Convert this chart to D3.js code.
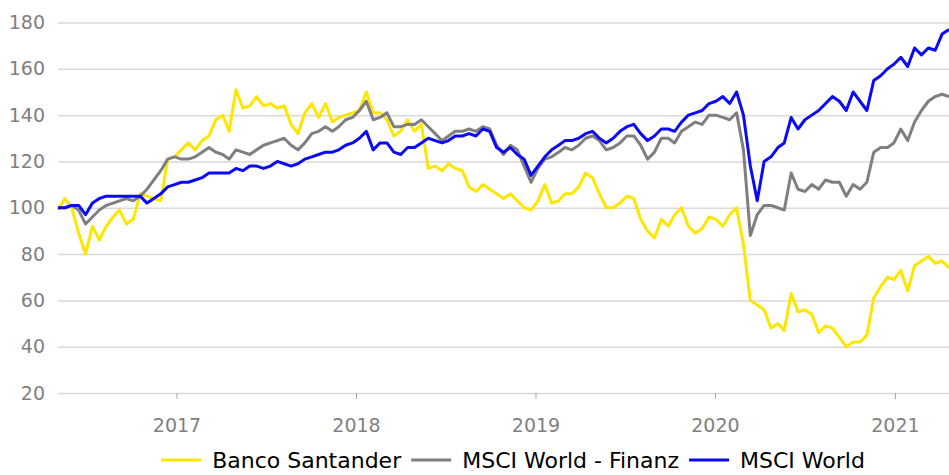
<!DOCTYPE html>
<html>
<head>
<meta charset="utf-8">
<script src="https://cdn.jsdelivr.net/npm/d3@7"></script>
<style>
    body { margin: 0; background: #fff; }
    svg text { font-family: 'DejaVu Sans', sans-serif; }
    .axisY text, .axisX text { fill: #808080; font-size: 19px; }
    .legend text { fill: #000; font-size: 22px; }
</style>
</head>
<body>
<svg id="chart" width="949" height="475"></svg>
<script>
const startDate = '2016-05-05';
const endDate = '2021-04-21';
const yTicks = [20, 40, 60, 80, 100, 120, 140, 160, 180];
const yearTicks = ['2017', '2018', '2019', '2020', '2021'];
const seriesNames = ['Banco Santander', 'MSCI World - Finanz', 'MSCI World'];
const seriesColors = ['#ffe600', '#7f7f7f', '#0a0af5'];

const santander = [
    99, 104, 100, 89, 80, 92, 86, 92, 96, 99, 93, 95, 106, 105, 104, 103, 121, 122, 125, 128,
    125, 129, 131, 138, 140, 133, 151, 143, 144, 148, 144, 145, 143, 144, 136, 132, 141, 145, 139, 145,
    137, 139, 140, 141, 142, 150, 141, 141, 138, 131, 133, 138, 133, 136, 117, 118, 116, 119, 117, 116,
    109, 107, 110, 108, 106, 104, 106, 103, 100, 99, 103, 110, 102, 103, 106, 106, 109, 115, 113, 106,
    100, 100, 102, 105, 104, 95, 90, 87, 95, 92, 97, 100, 92, 89, 91, 96, 95, 92, 97, 100,
    84, 60, 58, 56, 48, 50, 47, 63, 55, 56, 54, 46, 49, 48, 44, 40, 42, 42, 45, 61,
    66, 70, 69, 73, 64, 75, 77, 79, 76, 77, 74
];
const msciFinanz = [
    100, 100, 101, 99, 93, 96, 99, 101, 102, 103, 104, 103, 105, 108, 112, 116, 121, 122, 121, 121,
    122, 124, 126, 124, 123, 121, 125, 124, 123, 125, 127, 128, 129, 130, 127, 125, 128, 132, 133, 135,
    133, 135, 138, 139, 142, 146, 138, 139, 141, 135, 135, 136, 136, 138, 135, 132, 129, 131, 133, 133,
    134, 133, 135, 134, 127, 123, 127, 125, 118, 111, 117, 121, 122, 124, 126, 125, 127, 130, 131, 129,
    125, 126, 128, 131, 131, 127, 121, 124, 130, 130, 128, 133, 135, 137, 136, 140, 140, 139, 138, 141,
    125, 88, 97, 101, 101, 100, 99, 115, 108, 107, 110, 108, 112, 111, 111, 105, 110, 108, 111, 124,
    126, 126, 128, 134, 129, 137, 142, 146, 148, 149, 148
];
const msciWorld = [
    100, 100, 101, 101, 97, 102, 104, 105, 105, 105, 105, 105, 105, 102, 104, 106, 109, 110, 111, 111,
    112, 113, 115, 115, 115, 115, 117, 116, 118, 118, 117, 118, 120, 119, 118, 119, 121, 122, 123, 124,
    124, 125, 127, 128, 130, 133, 125, 128, 128, 124, 123, 126, 126, 128, 130, 129, 128, 129, 131, 131,
    132, 131, 134, 133, 126, 124, 126, 123, 121, 114, 118, 122, 125, 127, 129, 129, 130, 132, 133, 130,
    128, 130, 133, 135, 136, 132, 129, 131, 134, 134, 133, 137, 140, 141, 142, 145, 146, 148, 145, 150,
    140, 118, 103, 120, 122, 126, 128, 139, 134, 138, 140, 142, 145, 148, 146, 142, 150, 146, 142, 155,
    157, 160, 162, 165, 161, 169, 166, 169, 168, 175, 177
];

let indexChart = function(){

    this._data = null;
    this._selection = null;
    this._size = null;
    this._margin = null;
    let canvas = null;

    this.data = function(){
        if (arguments.length > 0){
            this._data = arguments[0];
            return this;
        } else return this._data;
    }

    this.selection = function(){
        if (arguments.length > 0){
            this._selection = arguments[0];
            return this;
        } else return this._selection;
    }

    this.size = function(){
        if (arguments.length > 0){
            this._size = arguments[0];
            return this;
        } else return this._size;
    }

    this.margin = function(){
        if (arguments.length > 0){
            this._margin = arguments[0];
            return this;
        } else return this._margin;
    }

    this.draw = function(){
        let w = this._size.w - this._margin.l - this._margin.r;
        let h = this._size.h - this._margin.t - this._margin.b;

        canvas = this._selection.append('g')
            .attr('transform', `translate(${this._margin.l}, ${this._margin.t})`);

        let parse = d3.timeParse('%Y-%m-%d');
        let xScale = d3.scaleTime()
            .domain([parse(startDate), parse(endDate)])
            .range([0, w]);

        let yScale = d3.scaleLinear()
            .domain([yTicks[0], yTicks[yTicks.length - 1]])
            .range([h, 0]);

        // grid + y labels
        let axisY = d3.axisLeft(yScale)
            .tickValues(yTicks)
            .tickSize(-w)
            .tickPadding(13);
        canvas.append('g')
            .classed('axisY', true)
            .call(axisY)
            .call(g => g.select('.domain').remove())
            .call(g => g.selectAll('line').attr('stroke', '#d9d9d9').attr('stroke-width', 1.5));

        // year ticks hang below the bottom gridline
        let years = yearTicks.map(y => parse(y + '-01-01'));
        let axisX = d3.axisBottom(xScale)
            .tickValues(years)
            .tickFormat(d3.timeFormat('%Y'))
            .tickSize(6)
            .tickPadding(20);
        canvas.append('g')
            .classed('axisX', true)
            .attr('transform', `translate(0, ${h})`)
            .call(axisX)
            .call(g => g.select('.domain').remove())
            .call(g => g.selectAll('line').attr('stroke', '#a6a6a6'));

        let line = d3.line()
            .x(d => xScale(d.date))
            .y(d => yScale(d.value));

        canvas.selectAll('.series')
            .data(this._data)
            .join('path')
            .classed('series', true)
            .attr('d', d => line(d.values))
            .attr('fill', 'none')
            .attr('stroke', d => d.color)
            .attr('stroke-width', 3)
            .attr('stroke-linejoin', 'round');

        this.drawLegend(w, h);
    }

    this.drawLegend = function(w, h){
        let legend = canvas.append('g').classed('legend', true);
        let items = legend.selectAll('g')
            .data(this._data)
            .join('g');
        items.append('line')
            .attr('x1', 0).attr('x2', 40)
            .attr('stroke', d => d.color)
            .attr('stroke-width', 3);
        items.append('text')
            .attr('x', 51)
            .attr('dy', '0.36em')
            .text(d => d.name);

        let x = 0;
        items.each(function(){
            let tw = d3.select(this).select('text').node().getComputedTextLength();
            d3.select(this).attr('transform', `translate(${x}, 0)`);
            x += 51 + tw + 10;
        });
        let total = x - 10;
        legend.attr('transform', `translate(${513 - this._margin.l - total / 2}, ${h + 67})`);
    }
}

let parseStart = d3.timeParse('%Y-%m-%d')(startDate);
let parseEnd = d3.timeParse('%Y-%m-%d')(endDate);
let span = d3.timeDay.count(parseStart, parseEnd);
let dates = santander.map((d, i) => d3.timeDay.offset(parseStart, Math.round(i * span / (santander.length - 1))));

let seriesValues = [santander, msciFinanz, msciWorld];
let chartData = seriesNames.map((name, k) => ({
    name: name,
    color: seriesColors[k],
    values: seriesValues[k].map((v, i) => ({date: dates[i], value: v}))
}));

new indexChart()
    .data(chartData)
    .selection(d3.select('#chart'))
    .size({w: 949, h: 475})
    .margin({t: 22.5, r: 0, b: 82, l: 58})
    .draw();
</script>
</body>
</html>
